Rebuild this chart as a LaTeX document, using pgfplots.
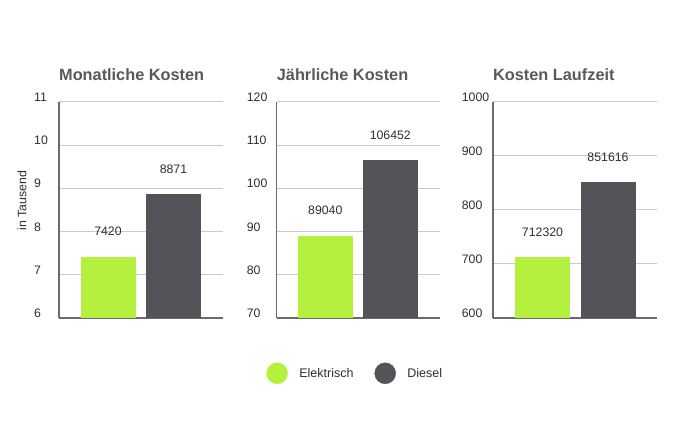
\documentclass[border=0pt]{standalone}
\usepackage{pgfplots}
\pgfplotsset{compat=1.18}
\usepackage{fontspec}
\setmainfont{Liberation Sans}
\definecolor{elgreen}{HTML}{B5F03F}
\definecolor{dieselgrey}{HTML}{525459}
\definecolor{gridgrey}{HTML}{CACACA}
\definecolor{axisgrey}{HTML}{6A6A6A}
\definecolor{titlegrey}{HTML}{58595B}
\definecolor{textgrey}{HTML}{2E2E2E}
\pgfplotsset{
  panel/.style={
    scale only axis, width=163.5bp, height=216.3bp, anchor=south west,
    xmin=0, xmax=163.5, enlargelimits=false,
    axis x line=bottom, axis y line=left,
    axis line style={draw=axisgrey, line width=1.2bp, -},
    xtick=\empty, major tick length=0pt,
    ymajorgrids, grid style={draw=gridgrey, line width=0.9bp},
    /pgf/number format/assume math mode=true,
    /pgf/number format/1000 sep={},
    yticklabel style={anchor=west, inner sep=0pt, yshift=4.5bp,
      font=\fontsize{12.3bp}{14bp}\selectfont, text=textgrey},
    title style={at={(rel axis cs:0,1)}, anchor=base west, yshift=15bp,
      font=\fontsize{16.3bp}{18bp}\selectfont\bfseries, text=titlegrey, inner sep=0pt},
    every node near coord/.append style={anchor=center, yshift=25bp,
      font=\fontsize{12.3bp}{14bp}\selectfont, text=textgrey},
  },
  bars/.style={ybar, bar width=55, bar shift=0pt, draw=none, fill=#1,
    nodes near coords, point meta=explicit symbolic, forget plot},
}
\begin{document}
\begin{tikzpicture}
\useasboundingbox (0bp,0bp) rectangle (680bp,421bp);

% Panel 1
\begin{axis}[panel, at={(59bp,103bp)},
  ymin=6, ymax=11, ytick={6,7,8,9,10,11},
  yticklabel style={xshift=-25bp},
  title={Monatliche Kosten},
  ylabel={in Tausend},
  every axis y label/.style={at={(rel axis cs:0,0.5)}, xshift=-37bp, yshift=9bp, rotate=90, anchor=center,
    font=\fontsize{12.3bp}{14bp}\selectfont, text=textgrey},
]
\addplot[bars=elgreen] coordinates {(49,7.420) [7420]};
\addplot[bars=dieselgrey] coordinates {(114.5,8.871) [8871]};
\end{axis}

% Panel 2
\begin{axis}[panel, at={(276.7bp,103bp)},
  ymin=70, ymax=120, ytick={70,80,90,100,110,120},
  yticklabel style={xshift=-30bp},
  title={Jährliche Kosten},
  legend style={at={(rel axis cs:-0.0642,-0.2557)}, anchor=west, draw=none, fill=none,
    legend columns=2, inner sep=0pt, nodes={inner sep=0pt},
    font=\fontsize{12.5bp}{15bp}\selectfont, text=textgrey,
    /tikz/every odd column/.append style={column sep=11.5bp},
    /tikz/every even column/.append style={column sep=21bp}},
]
\addplot[bars=elgreen] coordinates {(48.6,89.040) [89040]};
\addplot[bars=dieselgrey] coordinates {(113.6,106.452) [106452]};
\addlegendimage{legend image code/.code={\fill[elgreen] (10.5bp,0bp) circle (10.5bp);}}
\addlegendentry{Elektrisch}
\addlegendimage{legend image code/.code={\fill[dieselgrey] (10.5bp,0bp) circle (10.5bp);}}
\addlegendentry{Diesel}
\end{axis}

% Panel 3
\begin{axis}[panel, at={(493bp,103bp)},
  ymin=600, ymax=1000, ytick={600,700,800,900,1000},
  yticklabel style={xshift=-31.3bp},
  title={Kosten Laufzeit},
]
\addplot[bars=elgreen] coordinates {(49.5,712.320) [712320]};
\addplot[bars=dieselgrey] coordinates {(115,851.616) [851616]};
\end{axis}
\end{tikzpicture}
\end{document}
